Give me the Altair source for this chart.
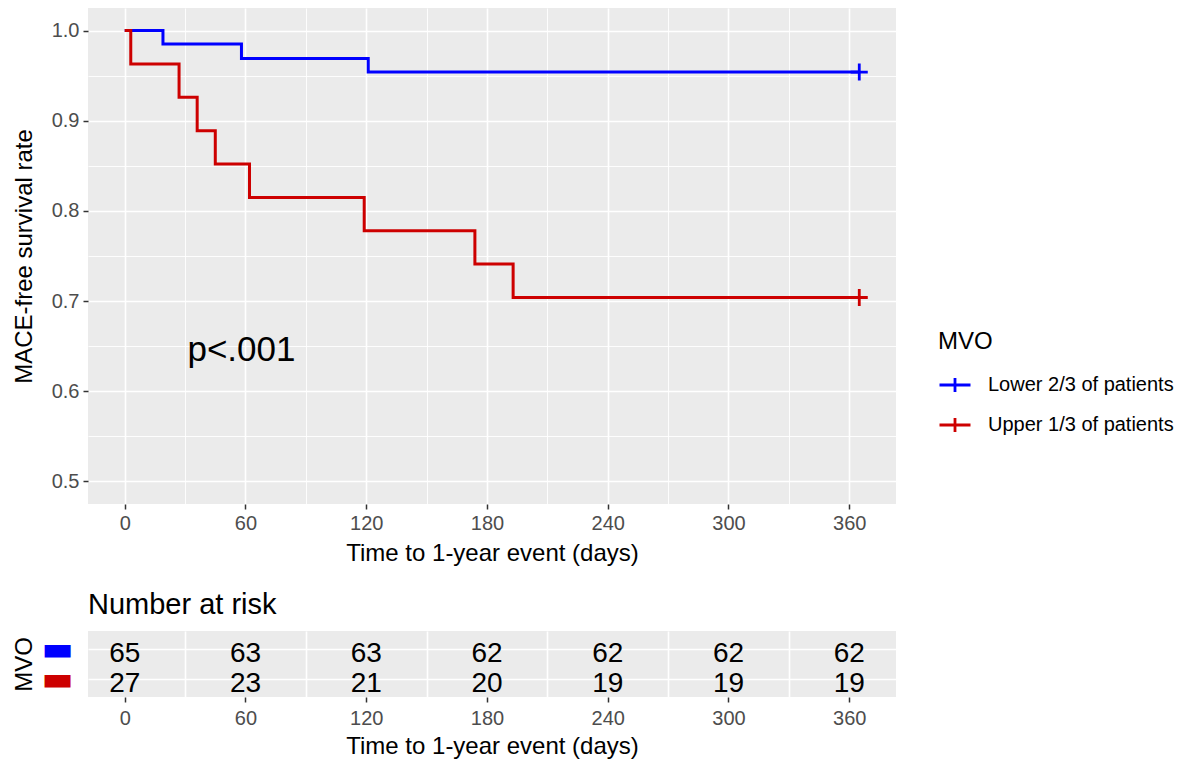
import altair as alt
import pandas as pd

FONT = "Liberation Sans"

lower_name = "Lower 2/3 of patients"
upper_name = "Upper 1/3 of patients"
group_colors = ["#0000FF", "#CD0000"]

lower_time = [0, 19, 58, 121, 365]
lower_surv = [1.0, 0.985, 0.969, 0.954, 0.954]
upper_time = [0, 3, 27, 36, 45, 62, 119, 174, 193, 365]
upper_surv = [1.0, 0.963, 0.926, 0.889, 0.852, 0.815, 0.778, 0.741, 0.704, 0.704]

censor_group = [lower_name, upper_name]
censor_time = [365, 365]
censor_surv = [0.954, 0.704]

risk_times = [0, 60, 120, 180, 240, 300, 360]
risk_lower = [65, 63, 63, 62, 62, 62, 62]
risk_upper = [27, 23, 21, 20, 19, 19, 19]

x_ticks = [0, 30, 60, 90, 120, 150, 180, 210, 240, 270, 300, 330, 360]
y_ticks = [0.5, 0.55, 0.6, 0.65, 0.7, 0.75, 0.8, 0.85, 0.9, 0.95, 1.0]

pval_label = ["p<.001"]
pval_time = [58]
pval_surv = [0.646]

lower_df = pd.DataFrame({"time": lower_time, "surv": lower_surv, "group": lower_name})
upper_df = pd.DataFrame({"time": upper_time, "surv": upper_surv, "group": upper_name})
censor_df = pd.DataFrame({"time": censor_time, "surv": censor_surv, "group": censor_group})
pval_df = pd.DataFrame({"time": pval_time, "surv": pval_surv, "label": pval_label})
risk_df = pd.DataFrame({
    "time": risk_times * 2,
    "group": [lower_name] * len(risk_times) + [upper_name] * len(risk_times),
    "n": risk_lower + risk_upper,
})

major_x = "datum.value % 60 === 0"
major_y = "abs(datum.value * 10 - round(datum.value * 10)) < 0.001"

x_dom = [-18.25, 383.25]

x_main = alt.X(
    "time:Q",
    scale=alt.Scale(domain=x_dom, nice=False, zero=False),
    axis=alt.Axis(
        values=x_ticks,
        labelExpr=f"{major_x} ? datum.label : ''",
        tickColor={"condition": {"test": major_x, "value": "#333333"}, "value": "rgba(0,0,0,0)"},
        gridWidth={"condition": {"test": major_x, "value": 1.6}, "value": 0.9},
        title="Time to 1-year event (days)",
        tickSize=5, labelPadding=4, titlePadding=8,
    ),
)
y_main = alt.Y(
    "surv:Q",
    scale=alt.Scale(domain=[0.475, 1.025], nice=False, zero=False),
    axis=alt.Axis(
        values=y_ticks,
        labelExpr=f"{major_y} ? format(datum.value, '.1f') : ''",
        tickColor={"condition": {"test": major_y, "value": "#333333"}, "value": "rgba(0,0,0,0)"},
        gridWidth={"condition": {"test": major_y, "value": 1.6}, "value": 0.9},
        title="MACE-free survival rate",
        tickSize=5, labelPadding=4, titlePadding=15,
        minExtent=37, maxExtent=37,
    ),
)
color = alt.Color(
    "group:N",
    scale=alt.Scale(domain=[lower_name, upper_name], range=group_colors),
    legend=alt.Legend(
        title="MVO", orient="none", legendX=850, legendY=322,
        titleFontSize=24, labelFontSize=20, titleFont=FONT, labelFont=FONT,
        titleFontWeight="normal", titleColor="black", labelColor="black",
        symbolType="M-1,0H1M0,-0.45V0.45", symbolSize=961, symbolStrokeWidth=2.8,
        symbolFillColor="transparent", labelLimit=0,
        rowPadding=10, labelOffset=16, titlePadding=14,
    ),
)

line_lower = alt.Chart(lower_df).mark_line(interpolate="step-after", strokeWidth=3).encode(
    x=x_main, y=y_main, color=color)
line_upper = alt.Chart(upper_df).mark_line(interpolate="step-after", strokeWidth=3).encode(
    x=x_main, y=y_main, color=color)
censors = alt.Chart(censor_df).mark_point(
    shape="M-1,0H1M0,-1V1", size=289, strokeWidth=2.8, filled=False, opacity=1
).encode(x=x_main, y=y_main, color=color)
pval = alt.Chart(pval_df).mark_text(fontSize=35, font=FONT, color="black").encode(
    x=x_main, y=y_main, text="label:N")

main = alt.layer(line_lower, line_upper, censors, pval).properties(width=808, height=496)

risk = alt.Chart(risk_df).mark_text(fontSize=28, font=FONT, color="black", dy=5).encode(
    x=alt.X(
        "time:Q",
        scale=alt.Scale(domain=x_dom, nice=False, zero=False),
        axis=alt.Axis(
            values=x_ticks,
            labelExpr=f"{major_x} ? datum.label : ''",
            tickColor={"condition": {"test": major_x, "value": "#333333"}, "value": "rgba(0,0,0,0)"},
            gridOpacity={"condition": {"test": major_x, "value": 0}, "value": 1},
            gridWidth=1.6,
            title="Time to 1-year event (days)",
            tickSize=5, labelPadding=6, titlePadding=6,
        ),
    ),
    y=alt.Y(
        "group:N",
        scale=alt.Scale(type="point", domain=[lower_name, upper_name], padding=0.6),
        axis=alt.Axis(
            title="MVO", ticks=False, labelExpr="'\u25ac'", grid=True,
            labelFont="DejaVu Sans", labelFontSize=34,
            labelColor={"condition": {"test": f"datum.value === '{lower_name}'", "value": group_colors[0]},
                        "value": group_colors[1]},
            labelPadding=15, titlePadding=15, minExtent=37, maxExtent=37,
            gridWidth=1.6,
        ),
    ),
    text="n:Q",
).properties(
    width=808, height=66,
    title=alt.TitleParams("Number at risk", anchor="start", frame="group", fontSize=29,
                          font=FONT, fontWeight="normal", color="black", offset=11),
)

chart = alt.vconcat(main, risk, spacing=26).properties(
    padding={"left": 4, "top": 0, "right": 5, "bottom": 5}
).configure_axis(
    labelFont=FONT, titleFont=FONT, labelFontSize=20, titleFontSize=24,
    labelColor="#4D4D4D", titleColor="black", titleFontWeight="normal",
    gridColor="white", domain=False, tickColor="#333333", tickWidth=1.5,
).configure_view(fill="#EBEBEB", stroke=None).configure_title(font=FONT)

chart.save("out.html", embed_options={"renderer": "svg", "actions": False})
